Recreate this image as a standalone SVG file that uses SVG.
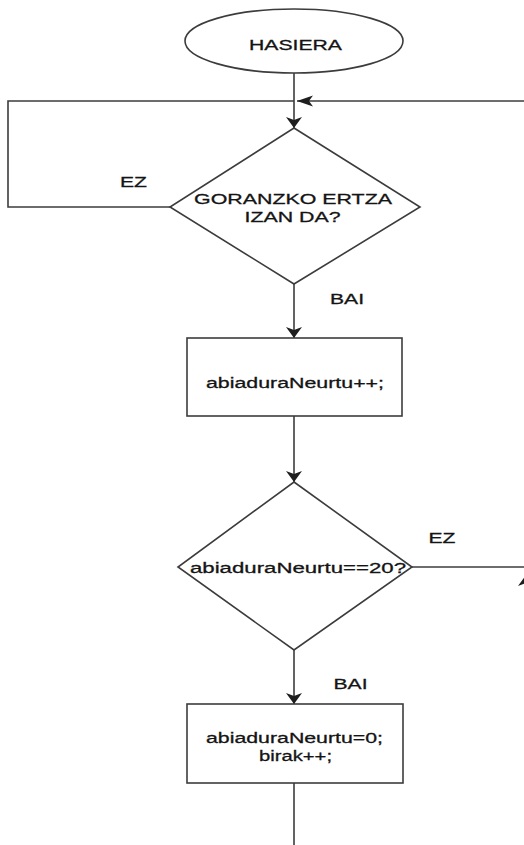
<svg xmlns="http://www.w3.org/2000/svg" width="524" height="845" viewBox="0 0 524 845">
  <style>
    .shape { fill: #ffffff; stroke: #3c3c3c; stroke-width: 1.6; }
    .edge { fill: none; stroke: #3c3c3c; stroke-width: 1.6; }
    .lbl { font-family: "Liberation Sans", Arial, sans-serif; font-size: 15.5px; fill: #141414; stroke: #141414; stroke-width: 0.3; }
  </style>
  <defs>
    <!-- classic arrowheads; vertical runs are narrower along the line than horizontal ones -->
    <marker id="arrowV" markerUnits="userSpaceOnUse" viewBox="0 -8 11 16" markerWidth="11" markerHeight="16" refX="11" refY="0" orient="auto" overflow="visible">
      <path d="M0,-8 L11,0 L0,8 L3,0 Z" fill="#1e1e1e"/>
    </marker>
    <marker id="arrowH" markerUnits="userSpaceOnUse" viewBox="0 -5.5 16 11" markerWidth="16" markerHeight="11" refX="16" refY="0" orient="auto" overflow="visible">
      <path d="M0,-5.5 L16,0 L0,5.5 L4,0 Z" fill="#1e1e1e"/>
    </marker>
  </defs>

  <rect width="524" height="845" fill="#ffffff"/>

  <g id="connectors">
    <path class="edge" d="M294,73 L294,128" marker-end="url(#arrowV)"/>
    <path class="edge" d="M170,207 L8,207 L8,101 L294,101"/>
    <path class="edge" d="M530,101 L297,101" marker-end="url(#arrowH)"/>
    <path class="edge" d="M294,284 L294,338" marker-end="url(#arrowV)"/>
    <path class="edge" d="M294,416 L294,482" marker-end="url(#arrowV)"/>
    <path class="edge" d="M412,567 L530,567"/>
    <path class="edge" d="M526,640 L526,575" marker-end="url(#arrowV)"/>
    <path class="edge" d="M294,650 L294,704" marker-end="url(#arrowV)"/>
    <path class="edge" d="M294,783 L294,850"/>
  </g>

  <g id="labels">
    <text class="lbl" x="120" y="186.5" textLength="27" lengthAdjust="spacingAndGlyphs">EZ</text>
    <text class="lbl" x="330" y="304" textLength="34" lengthAdjust="spacingAndGlyphs">BAI</text>
    <text class="lbl" x="428.5" y="542.5" textLength="27" lengthAdjust="spacingAndGlyphs">EZ</text>
    <text class="lbl" x="333.5" y="689" textLength="34" lengthAdjust="spacingAndGlyphs">BAI</text>
  </g>

  <g id="start">
    <ellipse class="shape" cx="294" cy="41" rx="109" ry="32"/>
    <text class="lbl" x="249" y="50" textLength="93" lengthAdjust="spacingAndGlyphs">HASIERA</text>
  </g>

  <g id="edge-check">
    <polygon class="shape" points="294,128 420,207 294,284 170,207"/>
    <text class="lbl" x="194" y="203.5" textLength="198" lengthAdjust="spacingAndGlyphs">GORANZKO ERTZA</text>
    <text class="lbl" x="244.5" y="222" textLength="96" lengthAdjust="spacingAndGlyphs">IZAN DA?</text>
  </g>

  <g id="count-step">
    <rect class="shape" x="187" y="338" width="215" height="78"/>
    <text class="lbl" x="206" y="387.5" textLength="178" lengthAdjust="spacingAndGlyphs">abiaduraNeurtu++;</text>
  </g>

  <g id="limit-check">
    <polygon class="shape" points="294,482 412,567 294,650 178,567"/>
    <text class="lbl" x="190" y="573" textLength="216" lengthAdjust="spacingAndGlyphs">abiaduraNeurtu==20?</text>
  </g>

  <g id="reset-step">
    <rect class="shape" x="187" y="704" width="216" height="79"/>
    <text class="lbl" x="206" y="742.5" textLength="177" lengthAdjust="spacingAndGlyphs">abiaduraNeurtu=0;</text>
    <text class="lbl" x="259" y="761" textLength="73" lengthAdjust="spacingAndGlyphs">birak++;</text>
  </g>
</svg>
